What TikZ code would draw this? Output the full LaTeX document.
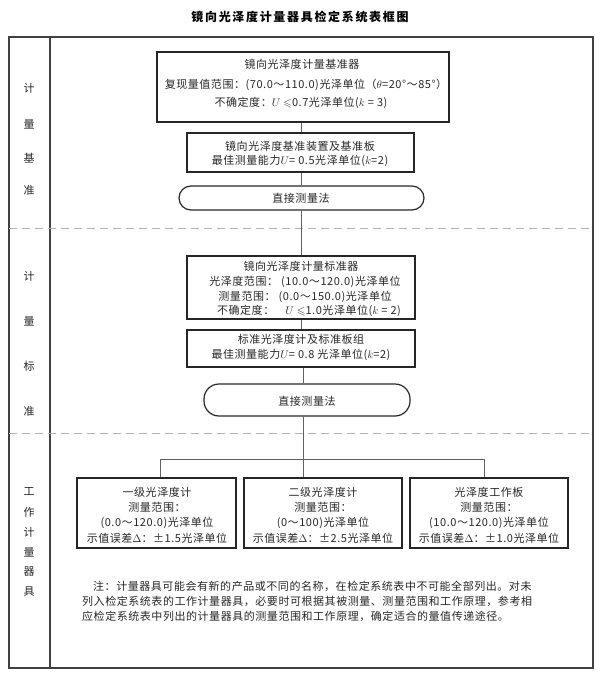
\documentclass[tikz,border=0pt]{standalone}
\usepackage{fontspec}
\usepackage{amssymb}
\newfontfamily\cjk[LetterSpace=5]{Noto Sans CJK SC}
\newfontfamily\cjktitle[LetterSpace=14]{Noto Sans CJK SC}
\tikzset{
  frame/.style={draw=black!75, line width=1.4pt},
  sep/.style={draw=gray!60, line width=1pt, dash pattern=on 8pt off 5pt},
  box/.style={draw=black!85, line width=1.2pt, inner sep=0pt},
  rbox/.style={box, rounded corners=12pt},
  conn/.style={draw=gray!75!black, line width=0.8pt},
  txt/.style={font=\cjk\fontsize{11}{15.3}\selectfont, inner sep=0pt, text=black!85},
  side/.style={font=\cjk\fontsize{11}{13}\selectfont, inner sep=0pt, text=black!85},
  ttl/.style={font=\cjktitle\bfseries\fontsize{12}{14}\selectfont, inner sep=0pt}
}
\begin{document}
\begin{tikzpicture}[x=1pt,y=-1pt]
\useasboundingbox (0,0) rectangle (600,676);
% title
\node[ttl] (title) at (300,17) {镜向光泽度计量器具检定系统表框图};
% frame
\draw[frame] (9,37) rectangle (593,668);
\draw[frame] (50,37) -- (50,668);
\draw[sep] (9,228) -- (593,228);
\draw[sep] (9,433) -- (593,433);
% side labels
\node[side] (s1) at (29,88) {计};
\node[side] (s2) at (29,124) {量};
\node[side] (s3) at (29,158) {基};
\node[side] (s4) at (29,190) {准};
\node[side] (s5) at (29,276) {计};
\node[side] (s6) at (29,321) {量};
\node[side] (s7) at (29,366) {标};
\node[side] (s8) at (29,411) {准};
\node[side] (s9) at (29,492) {工};
\node[side] (s10) at (29,512) {作};
\node[side] (s11) at (29,532) {计};
\node[side] (s12) at (29,552) {量};
\node[side] (s13) at (29,572) {器};
\node[side] (s14) at (29,592) {具};
% boxes
\node[box, minimum width=292pt, minimum height=70pt] (b1) at (303,87) {};
\node[box, minimum width=227pt, minimum height=39pt] (b2) at (300.5,152.5) {};
\node[rbox, minimum width=245pt, minimum height=24pt] (b3) at (301.5,198) {};
\node[box, minimum width=228pt, minimum height=63pt] (b4) at (301,287.5) {};
\node[box, minimum width=228pt, minimum height=37pt] (b5) at (301,348.5) {};
\node[rbox, rounded corners=15pt, minimum width=206pt, minimum height=32pt] (b6) at (307,400) {};
\node[box, minimum width=159pt, minimum height=70pt] (b7) at (156.5,513) {};
\node[box, minimum width=158pt, minimum height=70pt] (b8) at (323,513) {};
\node[box, minimum width=158pt, minimum height=70pt] (b9) at (489,513) {};
% texts
\node[txt] (t1a) at (302,64) {镜向光泽度计量基准器};
\node[txt] (t1b) at (306,85) {复现量值范围：(70.0～110.0)光泽单位（$\theta$=20°～85°）};
\node[txt] (t1c) at (301,103) {不确定度：$U\leqslant$0.7光泽单位($k$ = 3)};
\node[txt] (t2a) at (300,146) {镜向光泽度基准装置及基准板};
\node[txt] (t2b) at (300,161) {最佳测量能力$U$= 0.5光泽单位($k$=2)};
\node[txt] (t3) at (301,198) {直接测量法};
\node[txt] (t4a) at (301,266) {镜向光泽度计量标准器};
\node[txt] (t4b) at (305,282) {光泽度范围：\ (10.0～120.0)光泽单位};
\node[txt] (t4c) at (305,297) {测量范围：\ (0.0～150.0)光泽单位};
\node[txt] (t4d) at (309,311) {不确定度：\quad $U\leqslant$1.0光泽单位($k$ = 2)};
\node[txt] (t5a) at (301,339) {标准光泽度计及标准板组};
\node[txt] (t5b) at (301,355) {最佳测量能力$U$= 0.8 光泽单位($k$=2)};
\node[txt] (t6) at (307,401) {直接测量法};
\node[txt, align=center] (t7) at (157,515) {一级光泽度计\\测量范围：\\(0.0～120.0)光泽单位\\示值误差$\Delta$：±1.5光泽单位};
\node[txt, align=center] (t8) at (323,515) {二级光泽度计\\测量范围：\\(0～100)光泽单位\\示值误差$\Delta$：±2.5光泽单位};
\node[txt, align=center] (t9) at (489,515) {光泽度工作板\\测量范围：\\(10.0～120.0)光泽单位\\示值误差$\Delta$：±1.0光泽单位};
% note
\node[txt, anchor=west] (n1) at (93,586) {注：计量器具可能会有新的产品或不同的名称，在检定系统表中不可能全部列出。对未};
\node[txt, anchor=west] (n2) at (82,601) {列入检定系统表的工作计量器具，必要时可根据其被测量、测量范围和工作原理，参考相};
\node[txt, anchor=west] (n3) at (82,616) {应检定系统表中列出的计量器具的测量范围和工作原理，确定适合的量值传递途径。};
% connectors
\coordinate (ax) at (301,0);
\coordinate (ay) at (303,0);
\coordinate (hl) at (160,459);
\coordinate (hr) at (484,459);
\coordinate (hm) at (303,459);
\draw[conn] (b1.south -| ax) -- (b2.north -| ax);
\draw[conn] (b2.south -| ax) -- (b3.north -| ax);
\draw[conn] (b3.south -| ax) -- (b4.north -| ax);
\draw[conn] (b4.south -| ax) -- (b5.north -| ax);
\draw[conn] (b5.south -| ay) -- (b6.north -| ay);
\draw[conn] (b6.south -| hm) -- (b8.north -| hm);
\draw[conn] (b7.north -| hl) -- (hl) -- (hr) -- (b9.north -| hr);
\end{tikzpicture}
\end{document}
